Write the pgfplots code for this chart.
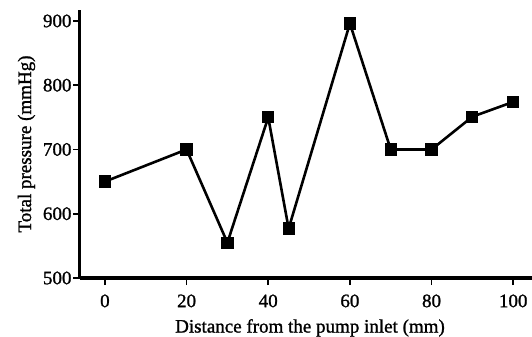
\documentclass[border=0pt]{standalone}
\usepackage{pgfplots}
\pgfplotsset{compat=1.18}
\usetikzlibrary{calc}
\usepackage{fontspec}
\setmainfont[FakeBold=1.2,BoldFont={Liberation Serif}]{Liberation Serif}
\begin{document}
\begin{tikzpicture}[x=1bp,y=1bp]
\begin{axis}[
  scale only axis,
  width=452bp, height=268bp,
  xmin=-6.1, xmax=104.6,
  ymin=500, ymax=917,
  axis x line*=bottom, axis y line*=left,
  axis line style={line width=3bp, -},
  xtick={0,20,...,100}, ytick={500,600,...,900},
  tick align=outside,
  major tick length=7bp,
  tick style={line width=1.8bp, black},
  every tick label/.append style={font=\bfseries\fontsize{19bp}{21bp}\selectfont},
  xticklabel style={yshift=-6bp},
  yticklabel style={xshift=2bp},
  /pgf/number format/assume math mode=true,
  xlabel={Distance from the pump inlet (mm)},
  ylabel={Total pressure (mmHg)},
  label style={font=\bfseries\fontsize{19bp}{21bp}\selectfont},
  xlabel style={yshift=-5bp, xshift=4bp},
  ylabel style={yshift=1bp},
  clip=false,
]
\addplot[black, line width=2.6bp, mark=square*, mark size=4.8bp, mark options={solid}]
coordinates {
(0,650) (20,700) (30,555) (40,750) (45,577) (60,896) (70,700) (80,700) (90,751) (100,774)
};
\coordinate (O) at (rel axis cs:0,0);
\end{axis}
\pgfresetboundingbox
\path ($(O)+(-80bp,-59bp)$) rectangle ($(O)+(452bp,278bp)$);
\end{tikzpicture}
\end{document}
